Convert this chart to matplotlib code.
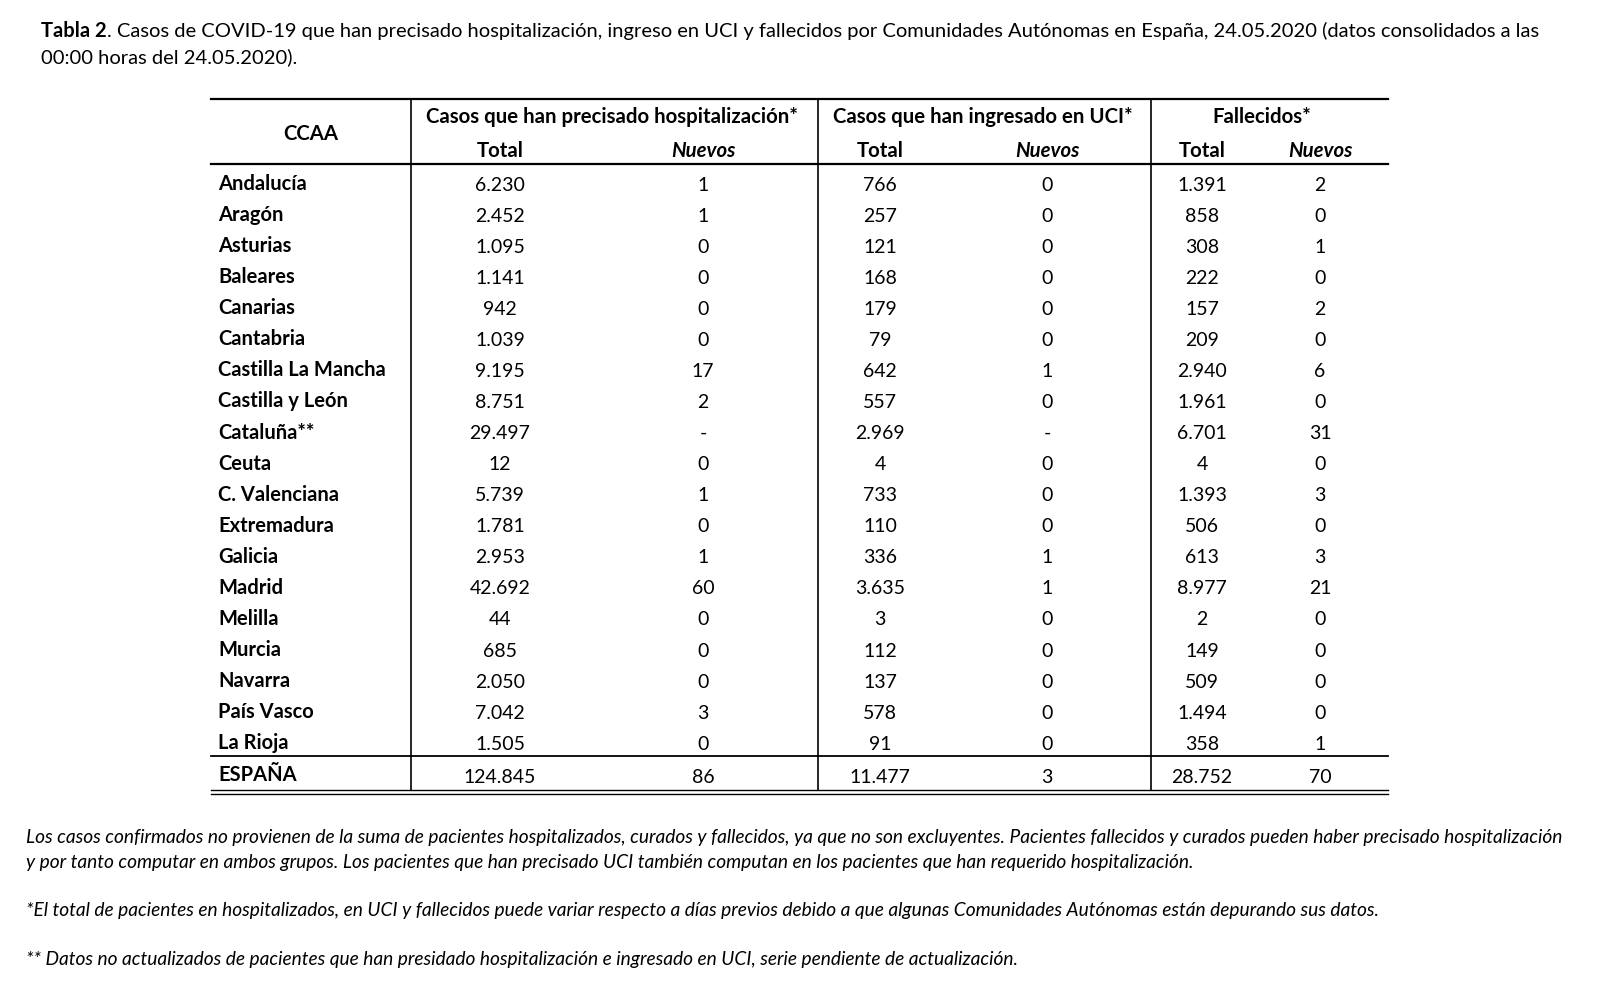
import matplotlib.pyplot as plt

plt.rcParams["font.family"] = ["Lato", "DejaVu Sans"]

regions = ["Andalucía", "Aragón", "Asturias", "Baleares", "Canarias", "Cantabria",
           "Castilla La Mancha", "Castilla y León", "Cataluña**", "Ceuta",
           "C. Valenciana", "Extremadura", "Galicia", "Madrid", "Melilla",
           "Murcia", "Navarra", "País Vasco", "La Rioja"]
hosp_total = [6230, 2452, 1095, 1141, 942, 1039, 9195, 8751, 29497, 12, 5739,
              1781, 2953, 42692, 44, 685, 2050, 7042, 1505]
hosp_new = [1, 1, 0, 0, 0, 0, 17, 2, None, 0, 1, 0, 1, 60, 0, 0, 0, 3, 0]
uci_total = [766, 257, 121, 168, 179, 79, 642, 557, 2969, 4, 733, 110, 336,
             3635, 3, 112, 137, 578, 91]
uci_new = [0, 0, 0, 0, 0, 0, 1, 0, None, 0, 0, 0, 1, 1, 0, 0, 0, 0, 0]
fall_total = [1391, 858, 308, 222, 157, 209, 2940, 1961, 6701, 4, 1393, 506,
              613, 8977, 2, 149, 509, 1494, 358]
fall_new = [2, 0, 1, 0, 2, 0, 6, 0, 31, 0, 3, 0, 3, 21, 0, 0, 0, 0, 1]
total_label = "ESPAÑA"
totals = [124845, 86, 11477, 3, 28752, 70]

groups = ["Casos que han precisado hospitalización*",
          "Casos que han ingresado en UCI*", "Fallecidos*"]
subheads = ["Total", "Nuevos"]

title_bold = "Tabla 2"
title_rest = (". Casos de COVID-19 que han precisado hospitalización, ingreso en UCI y "
              "fallecidos por Comunidades Autónomas en España, 24.05.2020 (datos consolidados a las")
title_line2 = "00:00 horas del 24.05.2020)."
notes = [
    "Los casos confirmados no provienen de la suma de pacientes hospitalizados, curados y fallecidos, "
    "ya que no son excluyentes. Pacientes fallecidos y curados pueden haber precisado hospitalización",
    "y por tanto computar en ambos grupos. Los pacientes que han precisado UCI también computan en "
    "los pacientes que han requerido hospitalización.",
    "*El total de pacientes en hospitalizados, en UCI y fallecidos puede variar respecto a días previos "
    "debido a que algunas Comunidades Autónomas están depurando sus datos.",
    "** Datos no actualizados de pacientes que han presidado hospitalización e ingresado en UCI, "
    "serie pendiente de actualización.",
]
note_y = [837, 862, 910, 959]


def fmt(v):
    if v is None:
        return "-"
    return f"{v:,}".replace(",", ".")


fig = plt.figure(figsize=(16, 10.05), dpi=100)
ax = fig.add_axes([0, 0, 1, 1])
ax.set_xlim(0, 1600)
ax.set_ylim(1005, 0)
ax.axis("off")

# title
tfs = 14.5
t = ax.text(41, 31, title_bold, fontsize=tfs, fontweight="bold", va="center")
fig.canvas.draw()
bb = t.get_window_extent()
ax.text(41 + bb.width, 31, title_rest, fontsize=tfs, va="center")
ax.text(41, 57, title_line2, fontsize=tfs, va="center")

# table geometry
x_left, x_right = 211, 1388
dividers = [411, 818, 1151]
col_x = [500, 703, 880, 1047, 1202, 1320]
group_x = [612, 983, 1262]
y_top, y_head, y_tot, y_bot = 99, 164, 756, 790
row0, step = 184, 31.07

ax.plot([x_left, x_right], [y_top, y_top], color="black", lw=1.6)
ax.plot([x_left, x_right], [y_head, y_head], color="black", lw=1.6)
ax.plot([x_left, x_right], [y_tot, y_tot], color="black", lw=1.3)
ax.plot([x_left, x_right], [y_bot, y_bot], color="black", lw=1.0)
ax.plot([x_left, x_right], [y_bot + 4, y_bot + 4], color="black", lw=1.0)
for xd in dividers:
    ax.plot([xd, xd], [y_top, y_bot], color="black", lw=1.2)

fs = 14
hfs = 14.7
ax.text(311, 134, "CCAA", fontsize=hfs, fontweight="bold", ha="center", va="center")
for gx, g in zip(group_x, groups):
    ax.text(gx, 117, g, fontsize=hfs, fontweight="bold", ha="center", va="center")
for i, cx in enumerate(col_x):
    ax.text(cx, 151, subheads[i % 2], fontsize=hfs, fontweight="bold",
            style="italic" if i % 2 else "normal", ha="center", va="center")

cols = [hosp_total, hosp_new, uci_total, uci_new, fall_total, fall_new]
for r, name in enumerate(regions):
    y = row0 + r * step
    ax.text(218, y, name, fontsize=14.5, fontweight="bold", va="center")
    for cx, col in zip(col_x, cols):
        ax.text(cx, y + 1, fmt(col[r]), fontsize=fs, ha="center", va="center")

y = 776
ax.text(218, y - 1, total_label, fontsize=14.5, fontweight="bold", va="center")
for cx, v in zip(col_x, totals):
    ax.text(cx, y + 1, fmt(v), fontsize=fs, ha="center", va="center")

for ny, note in zip(note_y, notes):
    ax.text(26, ny, note, fontsize=13.8, style="italic", va="center")

fig.savefig("out.png", dpi=100)
